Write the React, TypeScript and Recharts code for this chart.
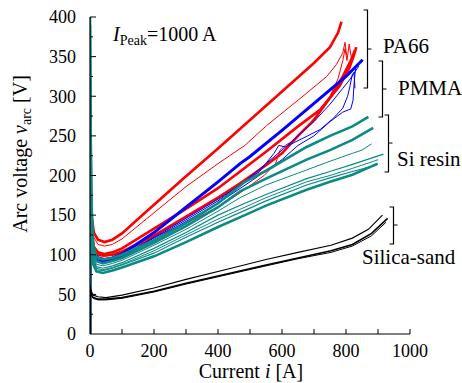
import React from 'react';
import { LineChart, Line, XAxis, YAxis } from 'recharts';

// ---- data: [current A, arc voltage V] ----
const xTicks = [0, 100, 200, 300, 400, 500, 600, 700, 800, 900, 1000];
const yTicks = [0, 25, 50, 75, 100, 125, 150, 175, 200, 225, 250, 275, 300, 325, 350, 375, 400];

// PA66 (red)
const redA = [[0,0],[0,175],[5,150],[12,128],[25,119],[45,116],[70,119],[100,127],[150,145],[200,163],[300,199],[400,234],[500,270],[600,306],[700,342],[750,362],[775,380],[786,394]];
const redB = [[0,0],[0,165],[5,140],[12,122],[25,113],[45,111],[70,113],[100,120],[200,153],[300,186],[400,215],[484,238],[552,263],[650,295],[740,325],[770,340],[790,355],[797,368],[802,352]];
const redC = [[0,0],[0,160],[5,130],[12,110],[25,103],[45,101],[70,103],[100,108],[200,133],[300,158],[400,184],[469,205],[550,230],[650,262],[719,283],[780,313],[810,335],[825,352],[832,362]];
const redD = [[0,0],[0,155],[5,125],[12,107],[25,100],[45,99],[70,100],[100,104],[200,124],[300,148],[400,172],[469,190],[550,213],[600,228],[650,250],[700,270],[750,298],[790,325],[815,345],[828,358]];
const redE = [[0,0],[0,150],[5,122],[12,106],[25,99],[45,98],[100,102],[200,122],[300,140],[400,160],[469,178],[544,200],[580,215],[594,232],[610,238],[640,245],[680,262],[720,282],[750,300],[775,322],[790,345],[797,360],[803,345],[810,366],[816,350]];

// PMMA (blue)
const blueA = [[0,0],[0,145],[5,118],[12,102],[25,96],[45,94],[70,96],[100,101],[200,128],[300,160],[400,192],[469,215],[500,224],[600,257],[700,291],[800,325],[852,346]];
const blueB = [[0,0],[0,140],[5,115],[12,100],[25,93],[45,92],[70,94],[100,99],[200,122],[300,146],[400,170],[469,188],[530,205],[575,228],[590,238],[610,236],[640,242],[680,250],[719,258],[760,272],[790,285],[805,300],[812,312],[820,328],[825,330],[828,310]];
const blueC = [[0,0],[0,135],[5,112],[12,98],[25,92],[45,91],[100,97],[200,119],[300,142],[400,165],[500,192],[600,220],[650,238],[700,250],[750,268],[790,280],[815,284],[822,295],[826,320],[830,335]];
const blueD = [[0,0],[0,138],[5,113],[12,99],[25,93],[45,92],[100,98],[200,121],[300,144],[400,168],[500,198],[600,232],[650,250],[700,268],[750,290],[790,310],[810,320],[830,332],[840,338]];

// Si resin (teal)
const tealA = [[0,0],[0,400],[2,260],[5,160],[10,112],[20,97],[40,94],[70,96],[100,100],[200,118],[300,140],[400,165],[484,192],[550,206],[677,236],[750,250],[820,262],[870,274]];
const tealB = [[0,0],[0,390],[2,240],[5,150],[10,105],[20,92],[40,89],[70,92],[100,96],[200,115],[300,136],[400,160],[469,180],[550,196],[677,220],[750,232],[820,245],[885,260]];
const tealC = [[0,0],[0,370],[2,220],[5,140],[10,100],[20,88],[40,86],[70,89],[100,93],[200,112],[300,132],[400,155],[469,172],[550,188],[677,207],[750,218],[820,228],[850,232],[880,240]];
const tealD = [[0,0],[0,350],[2,210],[5,130],[10,96],[20,85],[40,83],[70,86],[100,90],[200,108],[300,128],[400,150],[484,165],[550,176],[677,196],[750,205],[820,214],[917,227]];
const tealE = [[0,0],[0,340],[2,200],[5,125],[10,93],[20,83],[40,81],[70,84],[100,88],[200,105],[300,125],[400,145],[484,160],[550,172],[677,192],[750,200],[820,209],[901,220]];
const tealF = [[0,0],[0,330],[2,195],[5,120],[10,91],[20,81],[40,80],[70,83],[100,87],[200,102],[300,122],[400,141],[484,156],[550,168],[677,188],[750,197],[820,205],[896,213]];
const tealG = [[0,0],[0,320],[2,190],[5,115],[10,88],[20,79],[40,77],[70,80],[100,84],[200,98],[300,116],[400,135],[484,150],[550,162],[677,182],[750,192],[820,201],[899,215]];

// Silica-sand (black)
const blackA = [[0,0],[0,62],[4,54],[10,49],[25,47],[50,46],[100,49],[200,58],[300,69],[441,83],[550,94],[650,103],[753,112],[820,121],[870,132],[914,150]];
const blackB = [[0,0],[0,58],[4,50],[10,46],[25,44],[50,44],[100,46],[200,54],[300,64],[441,77],[550,87],[650,96],[753,105],[820,113],[880,127],[930,146]];
const blackC = [[0,0],[0,56],[4,49],[10,45],[25,43],[50,43],[100,45],[200,53],[300,63],[441,76],[550,86],[650,95],[753,103],[820,111],[880,124],[925,141]];

const RED = '#FF0000';
const BLUE = '#0000FF';
const TEAL = '#0B8A86';
const BLACK = '#000000';
const FONT = '"Liberation Serif", "Times New Roman", serif';

const toPts = (arr: number[][]) => arr.map(([x, y]) => ({ x, y }));

const series: { d: number[][]; c: string; w: number }[] = [
  { d: redA, c: RED, w: 2.6 },
  { d: redB, c: RED, w: 1 },
  { d: redC, c: RED, w: 2.6 },
  { d: redD, c: RED, w: 2.6 },
  { d: redE, c: RED, w: 1 },
  { d: blueA, c: BLUE, w: 3 },
  { d: blueB, c: BLUE, w: 1 },
  { d: blueC, c: BLUE, w: 1 },
  { d: blueD, c: BLUE, w: 1 },
  { d: tealA, c: TEAL, w: 2.6 },
  { d: tealB, c: TEAL, w: 2.6 },
  { d: tealC, c: TEAL, w: 1 },
  { d: tealD, c: TEAL, w: 1.2 },
  { d: tealE, c: TEAL, w: 1 },
  { d: tealF, c: TEAL, w: 1.2 },
  { d: tealG, c: TEAL, w: 2.6 },
  { d: blackA, c: BLACK, w: 1.2 },
  { d: blackB, c: BLACK, w: 1.6 },
  { d: blackC, c: BLACK, w: 1 },
];

const XTick = (props: any) => {
  const { x, y, payload } = props;
  const v = payload.value;
  return (
    <g>
      {v !== 0 && <line x1={x} y1={y} x2={x} y2={y - 5} stroke="#000" strokeWidth={1} />}
      {v % 200 === 0 && (
        <text x={x} y={y + 23} textAnchor="middle" fontFamily={FONT} fontSize={18} fill="#000">
          {v}
        </text>
      )}
    </g>
  );
};

const YTick = (props: any) => {
  const { x, y, payload } = props;
  const v = payload.value;
  const major = v % 50 === 0;
  return (
    <g>
      {v !== 0 && <line x1={x} y1={y} x2={x + (major ? 6 : 3)} y2={y} stroke="#000" strokeWidth={1} />}
      {major && (
        <text x={x - 14} y={y} dy="0.35em" textAnchor="end" fontFamily={FONT} fontSize={18} fill="#000">
          {v}
        </text>
      )}
    </g>
  );
};

const bracket = (x: number, y1: number, y2: number, ym: number) =>
  `M${x - 4},${y1} H${x} V${y2} H${x - 4} M${x},${ym} H${x + 4}`;

export default function App() {
  return (
    <div style={{ position: 'absolute', left: 0, top: 0, width: 462, height: 383, background: '#fff' }}>
      <LineChart width={462} height={383} margin={{ top: 17, right: 52, bottom: 19, left: 40 }}>
        <XAxis
          type="number"
          dataKey="x"
          domain={[0, 1000]}
          ticks={xTicks}
          height={30}
          tickSize={0}
          tickMargin={0}
          tickLine={false}
          axisLine={{ stroke: '#000', strokeWidth: 1.2 }}
          tick={<XTick />}
          interval={0}
          allowDataOverflow
        />
        <YAxis
          type="number"
          dataKey="y"
          domain={[0, 400]}
          ticks={yTicks}
          width={50}
          tickSize={0}
          tickMargin={0}
          tickLine={false}
          axisLine={{ stroke: '#000', strokeWidth: 1.2 }}
          tick={<YTick />}
          interval={0}
          allowDataOverflow
        />
        {series.map((s, i) => (
          <Line
            key={i}
            data={toPts(s.d)}
            dataKey="y"
            type="linear"
            stroke={s.c}
            strokeWidth={s.w}
            dot={false}
            activeDot={false}
            isAnimationActive={false}
          />
        ))}
      </LineChart>
      <svg
        width={462}
        height={383}
        style={{ position: 'absolute', left: 0, top: 0, pointerEvents: 'none' }}
        fontFamily={FONT}
      >
        <text x={113} y={41} fontSize={20} fill="#000">
          <tspan fontStyle="italic">I</tspan>
          <tspan fontSize={14} dy={4}>Peak</tspan>
          <tspan dy={-4}>=1000 A</tspan>
        </text>
        <path d={bracket(367.5, 10, 88, 49)} stroke="#000" strokeWidth={1.2} fill="none" />
        <path d={bracket(382.5, 61, 117, 89)} stroke="#000" strokeWidth={1.2} fill="none" />
        <path d={bracket(388.5, 115, 172, 143)} stroke="#000" strokeWidth={1.2} fill="none" />
        <path d={bracket(393.5, 207, 244, 225)} stroke="#000" strokeWidth={1.2} fill="none" />
        <text x={383} y={53} fontSize={21} fill="#000">PA66</text>
        <text x={398} y={95} fontSize={21} fill="#000">PMMA</text>
        <text x={397} y={166} fontSize={21} fill="#000">Si resin</text>
        <text x={362} y={264} fontSize={21} fill="#000">Silica-sand</text>
        <text x={251} y={378} fontSize={20} textAnchor="middle" fill="#000">
          Current <tspan fontStyle="italic">i</tspan> [A]
        </text>
        <text transform="translate(27,154) rotate(-90)" fontSize={20} textAnchor="middle" fill="#000">
          Arc voltage <tspan fontStyle="italic">v</tspan>
          <tspan fontSize={14} dy={4}>arc</tspan>
          <tspan dy={-4}> [V]</tspan>
        </text>
      </svg>
    </div>
  );
}
